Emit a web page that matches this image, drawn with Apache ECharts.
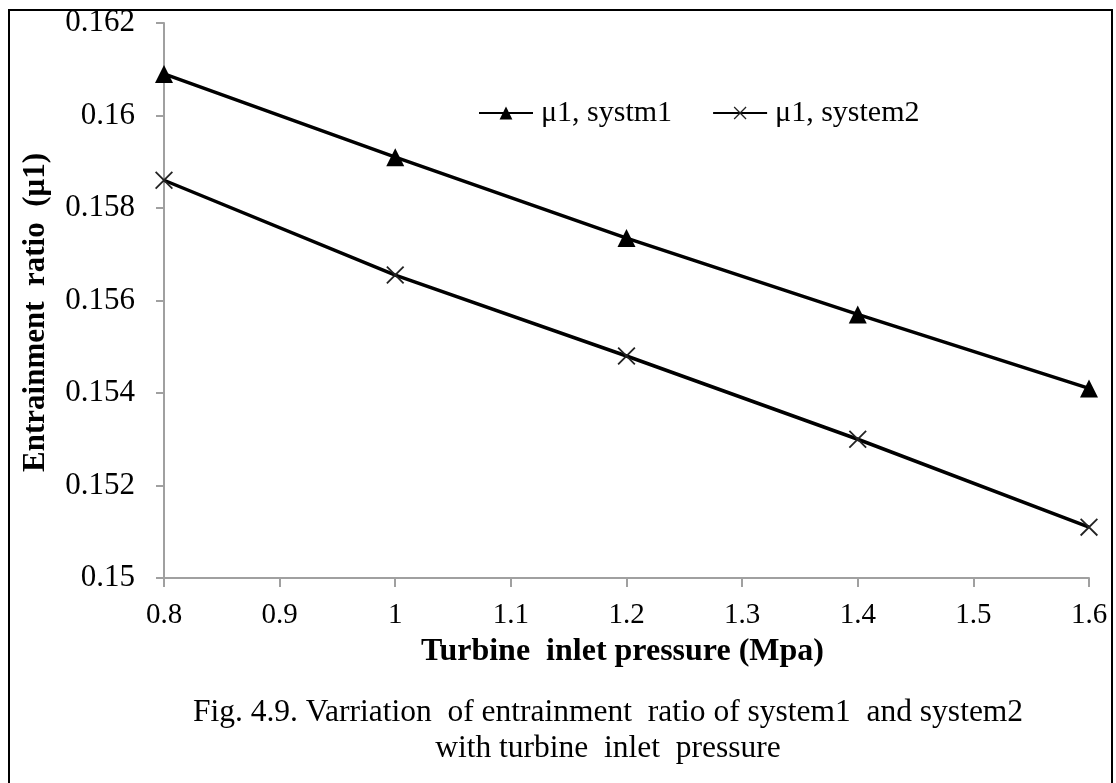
<!DOCTYPE html>
<html><head><meta charset="utf-8">
<script src="https://cdn.jsdelivr.net/npm/echarts@6/dist/echarts.min.js"></script>
<style>html,body{margin:0;padding:0;background:#fff}#c{width:1116px;height:783px}</style>
</head><body><div id="c"></div>
<script>
const pressure = [0.8, 1.0, 1.2, 1.4, 1.6];
const system1 = [0.1609, 0.1591, 0.15735, 0.1557, 0.1541];
const system2 = [0.1586, 0.15655, 0.1548, 0.1530, 0.1511];
const seriesNames = ['\u03bc1, systm1', '\u03bc1, system2'];
const xTitle = 'Turbine  inlet pressure (Mpa)';
const yTitle = 'Entrainment  ratio  (\u03bc1)';
const captionLines = ['Fig. 4.9. Varriation  of entrainment  ratio of system1  and system2', 'with turbine  inlet  pressure'];

const font = '"Liberation Serif", "DejaVu Serif", serif';
const crossPath = 'path://M0,0.7L0.7,0L10,9.3L9.3,10Z M9.3,0L10,0.7L0.7,10L0,9.3Z';
const chart = echarts.init(document.getElementById('c'));
chart.setOption({
  backgroundColor: '#fff',
  animation: false,
  textStyle: {fontFamily: font, color: '#000'},
  grid: {left: 164, right: 27, top: 23, bottom: 205},
  legend: {
    top: 93, left: 473,
    itemWidth: 54, itemHeight: 16, itemGap: 40,
    textStyle: {fontFamily: font, fontSize: 30, color: '#000', padding: [0, 0, 0, 3]},
    data: seriesNames
  },
  xAxis: {
    type: 'value', min: 0.8, max: 1.6, interval: 0.1,
    name: xTitle, nameLocation: 'middle', nameGap: 58,
    nameTextStyle: {fontFamily: font, fontSize: 32, fontWeight: 'bold', color: '#000', padding: [0, 8, 0, 0]},
    axisLine: {lineStyle: {color: '#a0a0a0', width: 2}},
    axisTick: {length: 9, lineStyle: {color: '#a0a0a0', width: 2}},
    axisLabel: {fontFamily: font, fontSize: 29, color: '#000', margin: 23},
    splitLine: {show: false}
  },
  yAxis: {
    type: 'value', min: 0.15, max: 0.162, interval: 0.002,
    name: yTitle, nameLocation: 'middle', nameGap: 113, nameRotate: 90,
    nameTextStyle: {fontFamily: font, fontSize: 31, fontWeight: 'bold', color: '#000', padding: [0, 24, 0, 0]},
    axisLine: {show: true, lineStyle: {color: '#a0a0a0', width: 2}},
    axisTick: {show: true, length: 8, lineStyle: {color: '#a0a0a0', width: 2}},
    axisLabel: {fontFamily: font, fontSize: 31, color: '#000', margin: 29},
    splitLine: {show: false}
  },
  series: [
    {name: seriesNames[0], type: 'line', data: pressure.map((p, i) => [p, system1[i]]),
     symbol: 'triangle', symbolSize: 18, showAllSymbol: true,
     lineStyle: {color: '#000', width: 3.5}, itemStyle: {color: '#000'}},
    {name: seriesNames[1], type: 'line', data: pressure.map((p, i) => [p, system2[i]]),
     symbol: crossPath, symbolSize: 18, showAllSymbol: true,
     lineStyle: {color: '#000', width: 3.5}, itemStyle: {color: '#222'}}
  ],
  graphic: [
    {type: 'rect', shape: {x: 9, y: 10, width: 1103, height: 790}, style: {fill: 'none', stroke: '#000', lineWidth: 2}, silent: true},
    {type: 'text', x: 608, y: 713, style: {text: captionLines[0], font: '31.5px ' + font, fill: '#000', align: 'center', verticalAlign: 'middle'}},
    {type: 'text', x: 608, y: 749, style: {text: captionLines[1], font: '31.5px ' + font, fill: '#000', align: 'center', verticalAlign: 'middle'}}
  ]
});
</script></body></html>
